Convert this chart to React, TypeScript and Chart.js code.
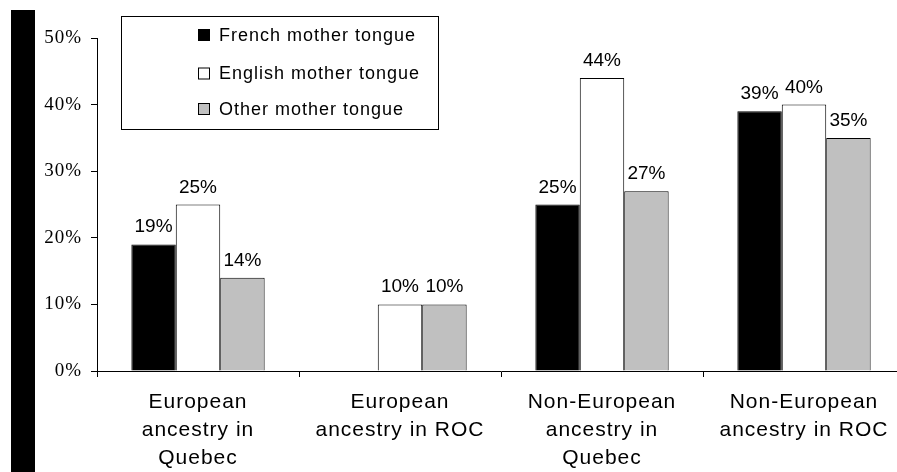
import React, { useEffect, useRef } from "react";
import { Chart, registerables } from "chart.js";

Chart.register(...registerables);

const categories: string[][] = [
  ["European", "ancestry in", "Quebec"],
  ["European", "ancestry in ROC"],
  ["Non-European", "ancestry in", "Quebec"],
  ["Non-European", "ancestry in ROC"],
];
const seriesNames = ["French mother tongue", "English mother tongue", "Other mother tongue"];
const frenchValues: (number | null)[] = [19, null, 25, 39];
const englishValues: (number | null)[] = [25, 10, 44, 40];
const otherValues: (number | null)[] = [14, 10, 27, 35];
const seriesColors = ["#000000", "#ffffff", "#c0c0c0"];
const yTicks = [0, 10, 20, 30, 40, 50];

const SANS = "'Liberation Sans', Arial, sans-serif";
const SERIF = "'Liberation Serif', 'Times New Roman', serif";

const spacing = {
  id: "spacing",
  beforeDraw(chart: any) {
    (chart.ctx as any).letterSpacing = "1px";
  },
};

const valueLabels = {
  id: "valueLabels",
  afterDatasetsDraw(chart: any) {
    const ctx = chart.ctx;
    ctx.save();
    (ctx as any).letterSpacing = "0px";
    ctx.font = `19px ${SANS}`;
    ctx.fillStyle = "#000";
    ctx.textAlign = "center";
    ctx.textBaseline = "alphabetic";
    chart.data.datasets.forEach((ds: any, i: number) => {
      const meta = chart.getDatasetMeta(i);
      meta.data.forEach((el: any, j: number) => {
        const v = ds.data[j];
        if (v === null || v === undefined) return;
        ctx.fillText(`${v}%`, el.x, el.y - 12);
      });
    });
    ctx.restore();
  },
};

const boxLegend = {
  id: "boxLegend",
  afterDraw(chart: any) {
    const ctx = chart.ctx;
    ctx.save();
    (ctx as any).letterSpacing = "1px";
    ctx.fillStyle = "#fff";
    ctx.fillRect(121.5, 16.5, 317, 113);
    ctx.strokeStyle = "#000";
    ctx.lineWidth = 1;
    ctx.strokeRect(121.5, 16.5, 317, 113);
    const centers = [35, 73.5, 109];
    ctx.font = `18px ${SANS}`;
    ctx.textBaseline = "middle";
    ctx.textAlign = "left";
    chart.data.datasets.forEach((ds: any, i: number) => {
      const cy = centers[i];
      ctx.fillStyle = ds.backgroundColor;
      ctx.fillRect(198.5, cy - 5.5, 11, 11);
      ctx.strokeStyle = "#000";
      ctx.strokeRect(198.5, cy - 5.5, 11, 11);
      ctx.fillStyle = "#000";
      ctx.fillText(ds.label, 219, cy + 1);
    });
    ctx.restore();
  },
};

export default function App() {
  const ref = useRef<HTMLCanvasElement | null>(null);
  useEffect(() => {
    if (!ref.current) return;
    const values = [frenchValues, englishValues, otherValues];
    const chart = new Chart(ref.current, {
      type: "bar",
      data: {
        labels: categories,
        datasets: seriesNames.map((name, i) => ({
          label: name,
          data: values[i],
          backgroundColor: seriesColors[i],
          borderColor: "#000",
          borderWidth: 1,
          categoryPercentage: 0.66,
          barPercentage: 1.0,
        })),
      },
      options: {
        animation: false,
        responsive: false,
        layout: { padding: { left: 0, right: 7, top: 38, bottom: 0 } },
        plugins: { legend: { display: false }, tooltip: { enabled: false } },
        scales: {
          x: {
            offset: true,
            grid: { offset: true, drawOnChartArea: false, tickLength: 6, color: "#000" },
            border: { display: true, color: "#000", width: 1 },
            ticks: {
              font: { family: SANS, size: 21, lineHeight: 1.333 },
              color: "#000",
              padding: 11,
              maxRotation: 0,
              autoSkip: false,
            },
            afterFit(scale: any) {
              scale.height = 101;
            },
          },
          y: {
            min: 0,
            max: 50,
            afterBuildTicks(scale: any) {
              scale.ticks = yTicks.map((v) => ({ value: v }));
            },
            grid: { drawOnChartArea: false, tickLength: 6, color: "#000" },
            border: { display: true, color: "#000", width: 1 },
            ticks: {
              font: { family: SERIF, size: 19 },
              color: "#000",
              padding: 9,
              callback: (v: any) => `${v}%`,
            },
            afterFit(scale: any) {
              scale.width = 97;
            },
          },
        },
      },
      plugins: [spacing, valueLabels, boxLegend],
    });
    return () => chart.destroy();
  }, []);

  return (
    <div
      style={{
        position: "fixed",
        left: 0,
        top: 0,
        width: 897,
        height: 472,
        overflow: "hidden",
        background: "#fff",
      }}
    >
      <canvas ref={ref} width={912} height={472} style={{ width: 912, height: 472, display: "block" }} />
      <div
        style={{
          position: "absolute",
          left: 11,
          top: 10,
          width: 24,
          height: 462,
          background: "#000",
        }}
      />
    </div>
  );
}
